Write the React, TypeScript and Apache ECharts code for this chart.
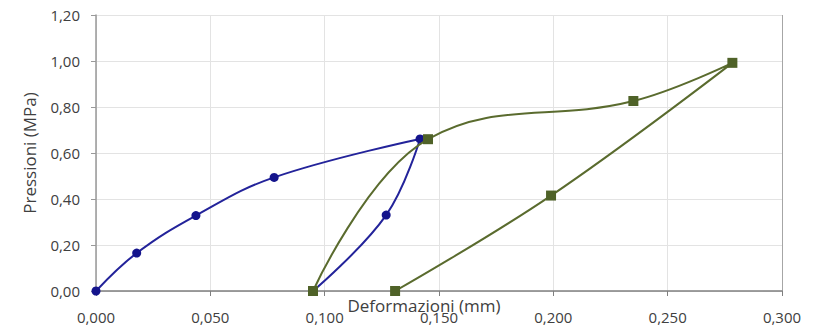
import React, { useEffect, useRef } from "react";
import * as echarts from "echarts";

const blueX = [0, 0.0178, 0.0437, 0.0779, 0.1417, 0.1269, 0.0949];
const blueY = [0, 0.165, 0.328, 0.494, 0.661, 0.33, 0];
const greenX = [0.0949, 0.1452, 0.235, 0.2783, 0.199, 0.1308];
const greenY = [0, 0.66, 0.826, 0.992, 0.415, 0];

const xTitle = "Deformazioni (mm)";
const yTitle = "Pressioni (MPa)";

export default function App() {
  const ref = useRef<HTMLDivElement>(null);
  useEffect(() => {
    if (!ref.current) return;
    const chart = echarts.init(ref.current, null, { renderer: "svg" });
    const font = "'Open Sans', 'Liberation Sans', sans-serif";
    chart.setOption({
      animation: false,
      textStyle: { fontFamily: font },
      grid: {
        left: 96,
        right: 43,
        top: 15,
        bottom: 40,
        containLabel: false,
        outerBoundsMode: "none",
      },
      xAxis: {
        type: "value",
        min: 0,
        max: 0.3,
        interval: 0.05,
        name: xTitle,
        nameLocation: "middle",
        nameGap: 6,
        nameMoveOverlap: false,
        nameTextStyle: {
          color: "#404040",
          fontSize: 17,
          fontFamily: font,
          padding: [0, 30, 0, 0],
        },
        axisLine: { show: true, lineStyle: { color: "#7f7f7f", width: 1.5 } },
        axisTick: { show: true, length: 5, lineStyle: { color: "#7f7f7f" } },
        axisLabel: {
          color: "#404040",
          fontSize: 15,
          margin: 18,
          formatter: (v: number) => v.toFixed(3).replace(".", ","),
        },
        splitLine: {
          show: true,
          lineStyle: {
            color: ["#e3e3e3", "#e3e3e3", "#e3e3e3", "#e3e3e3", "#e3e3e3", "#e3e3e3", "#a6a6a6"],
          },
        },
      },
      yAxis: {
        type: "value",
        min: 0,
        max: 1.2,
        interval: 0.2,
        name: yTitle,
        nameLocation: "middle",
        nameGap: 58,
        nameRotate: 90,
        nameMoveOverlap: false,
        nameTextStyle: { color: "#404040", fontSize: 17, fontFamily: font },
        axisLine: { show: true, lineStyle: { color: "#999999", width: 1.5 } },
        axisTick: { show: true, length: 5, lineStyle: { color: "#999999" } },
        axisLabel: {
          color: "#404040",
          fontSize: 15,
          margin: 16,
          formatter: (v: number) => v.toFixed(2).replace(".", ","),
        },
        splitLine: { show: true, lineStyle: { color: "#e3e3e3" } },
      },
      series: [
        {
          type: "line",
          data: blueX.map((x, i) => [x, blueY[i]]),
          smooth: 0.4,
          symbol: "circle",
          symbolSize: 9,
          lineStyle: { color: "#23239a", width: 2 },
          itemStyle: { color: "#14148c" },
          z: 3,
        },
        {
          type: "line",
          data: greenX.map((x, i) => [x, greenY[i]]),
          smooth: 0.4,
          symbol: "rect",
          symbolSize: 10,
          lineStyle: { color: "#5a6b2e", width: 2 },
          itemStyle: { color: "#4f6228" },
          z: 4,
        },
      ],
    });
    return () => chart.dispose();
  }, []);
  return (
    <div
      ref={ref}
      style={{ position: "absolute", left: 0, top: 0, width: 825, height: 331 }}
    />
  );
}
